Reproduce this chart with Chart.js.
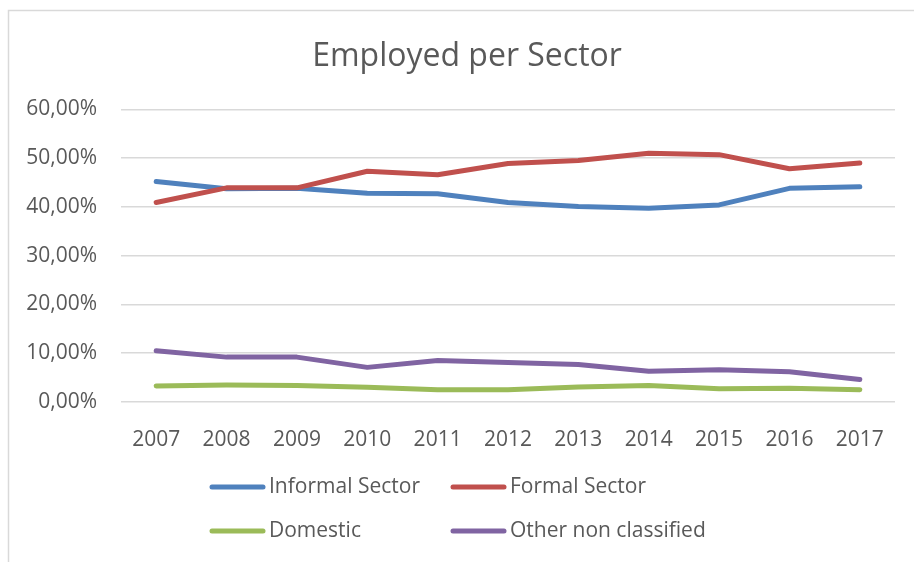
<!doctype html>
<html lang="en">
  <head>
    <meta charset="utf-8">
    <title>Employed per Sector</title>
    <script src="https://cdn.jsdelivr.net/npm/chart.js@4.4.1/dist/chart.umd.min.js"></script>
    <style>
      html, body { margin: 0; padding: 0; background: #fff; }
      #wrap { position: relative; width: 914px; height: 562px; }
    </style>
  </head>
  <body>
    <div id="wrap"><canvas id="chart"></canvas></div>
    <script>
      // share of employed (%) per sector, by year
      const years = ["2007", "2008", "2009", "2010", "2011", "2012", "2013", "2014", "2015", "2016", "2017"];
      const informal = [45.2, 43.7, 43.8, 42.8, 42.7, 40.9, 40.1, 39.7, 40.4, 43.8, 44.1];
      const formal = [40.9, 43.9, 43.9, 47.3, 46.6, 48.9, 49.5, 51.0, 50.7, 47.8, 49.0];
      const domestic = [3.3, 3.5, 3.4, 3.0, 2.5, 2.5, 3.1, 3.4, 2.7, 2.8, 2.5];
      const other = [10.5, 9.2, 9.2, 7.1, 8.5, 8.1, 7.7, 6.3, 6.6, 6.2, 4.6];
      const yMin = 0, yMax = 60, yStep = 10;
      const chartTitle = "Employed per Sector";

      const FONT = "'Open Sans', 'Liberation Sans', sans-serif";
      const GREY = "#595959";
      const GRID = "#d9d9d9";

      function series(label, data, color, order) {
        return {
          label, data, order,
          borderColor: color, backgroundColor: color,
          borderWidth: 5, borderCapStyle: "round", borderJoinStyle: "round",
          pointRadius: 0, pointHoverRadius: 0, tension: 0, fill: false
        };
      }

      // outer frame of the chart box + title centred on the frame
      const frame = {
        id: "frame",
        beforeDraw(chart) {
          const ctx = chart.ctx;
          ctx.save();
          ctx.fillStyle = "#fff";
          ctx.fillRect(0, 0, chart.width, chart.height);
          ctx.strokeStyle = GRID;
          ctx.lineWidth = 1.5;
          ctx.strokeRect(8.5, 10.5, chart.width + 20, chart.height + 20);
          ctx.font = "32px " + FONT;
          ctx.fillStyle = GREY;
          ctx.textAlign = "center";
          ctx.textBaseline = "middle";
          ctx.fillText(chartTitle, 467, 57);
          ctx.restore();
        }
      };

      // two-column legend under the plot
      const gridLegend = {
        id: "gridLegend",
        afterDraw(chart) {
          const ctx = chart.ctx;
          const cols = [212, 453], rows = [487, 531];
          ctx.save();
          ctx.font = "21px " + FONT;
          ctx.textBaseline = "middle";
          ctx.textAlign = "left";
          chart.data.datasets.forEach((ds, i) => {
            const x = cols[i % 2], y = rows[Math.floor(i / 2)];
            ctx.strokeStyle = ds.borderColor;
            ctx.lineWidth = 5;
            ctx.lineCap = "round";
            ctx.beginPath();
            ctx.moveTo(x, y);
            ctx.lineTo(x + 51, y);
            ctx.stroke();
            ctx.fillStyle = GREY;
            ctx.fillText(ds.label, x + 57, y);
          });
          ctx.restore();
        }
      };

      new Chart(document.getElementById("chart").getContext("2d"), {
        type: "line",
        data: {
          labels: years,
          datasets: [
            series("Informal Sector", informal, "#4f81bd", 4),
            series("Formal Sector", formal, "#c0504d", 3),
            series("Domestic", domestic, "#9bbb59", 2),
            series("Other non classified", other, "#8064a2", 1)
          ]
        },
        options: {
          responsive: true,
          maintainAspectRatio: false,
          animation: false,
          events: [],
          layout: { padding: { left: 0, right: 19, top: 109.3, bottom: 100 } },
          plugins: {
            legend: { display: false },
            tooltip: { enabled: false },
            title: { display: false }
          },
          scales: {
            x: {
              offset: true,
              grid: { display: false },
              border: { display: false },
              ticks: { color: GREY, font: { family: FONT, size: 21 }, padding: 17, maxRotation: 0 },
              afterFit(scale) { scale.height = 60; }
            },
            y: {
              min: yMin, max: yMax,
              grid: { color: GRID, lineWidth: 1.5, drawTicks: false },
              border: { display: false },
              ticks: {
                stepSize: yStep,
                color: GREY,
                font: { family: FONT, size: 21 },
                padding: 24,
                callback: v => v.toFixed(2).replace(".", ",") + "%"
              },
              afterFit(scale) { scale.width = 121; }
            }
          }
        },
        plugins: [frame, gridLegend]
      });
    </script>
  </body>
</html>
